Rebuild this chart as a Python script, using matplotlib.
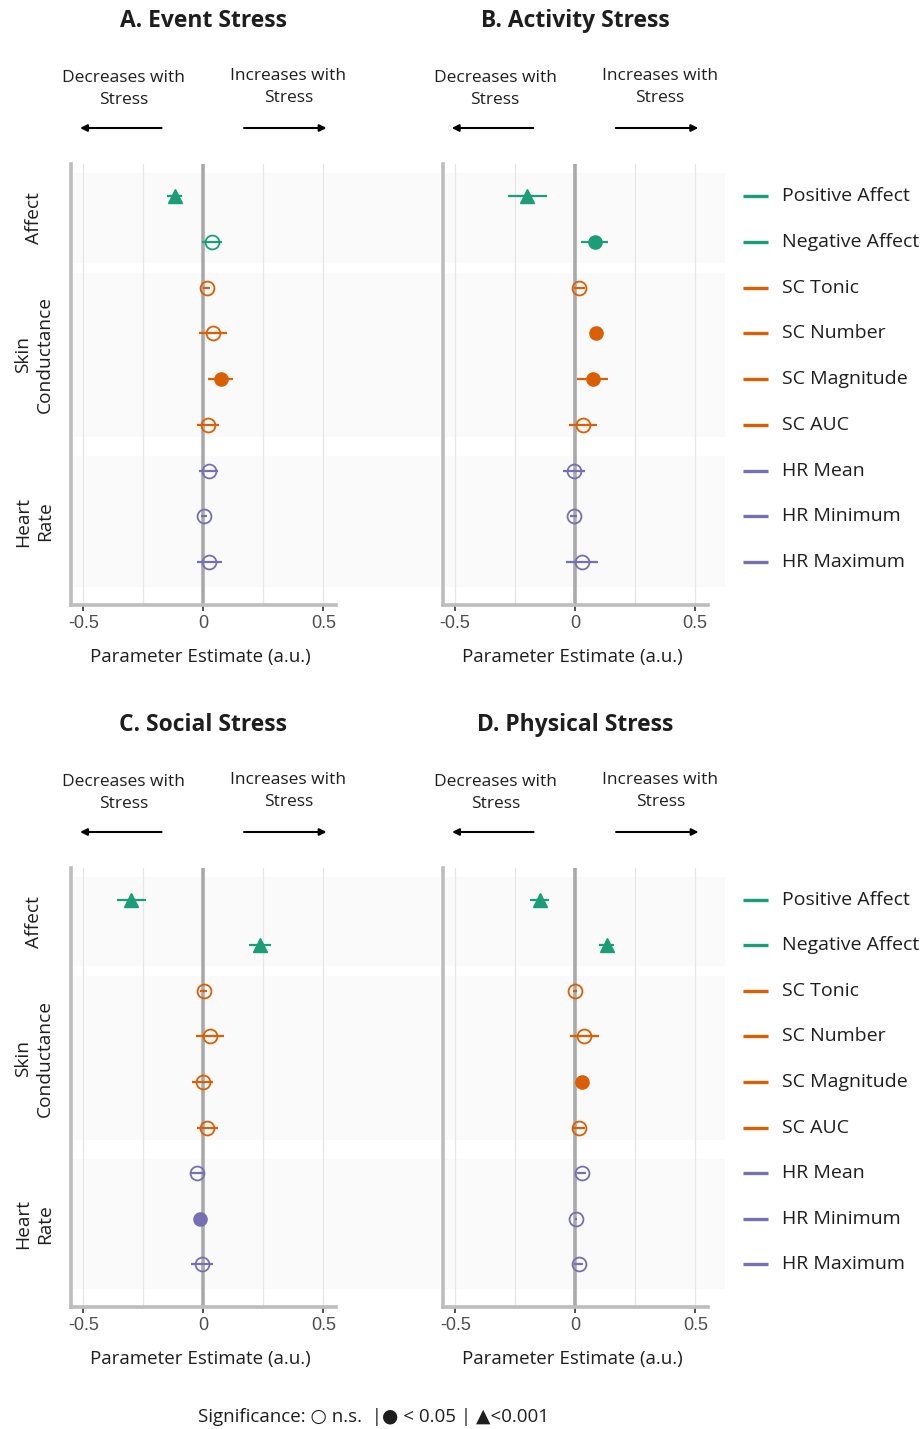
"""
Forest plots: stress type vs affect / skin conductance / heart rate estimates
"""

import numpy as np
import matplotlib
matplotlib.use("Agg")
import matplotlib.pyplot as plt
from matplotlib.transforms import blended_transform_factory

plt.rcParams["font.family"] = ["Open Sans", "DejaVu Sans"]

measures = ["Positive Affect", "Negative Affect", "SC Tonic", "SC Number", "SC Magnitude",
            "SC AUC", "HR Mean", "HR Minimum", "HR Maximum"]
measure_group = ["Affect", "Affect", "SC", "SC", "SC", "SC", "HR", "HR", "HR"]
group_labels = ["Affect", "Skin\nConductance", "Heart\nRate"]

event_est = [-0.120, 0.036, 0.014, 0.040, 0.072, 0.019, 0.022, 0.003, 0.025]
event_err = [0.033, 0.040, 0.014, 0.057, 0.052, 0.047, 0.039, 0.013, 0.051]
event_sig = ["p001", "ns", "ns", "ns", "p05", "ns", "ns", "ns", "ns"]

activity_est = [-0.198, 0.083, 0.018, 0.086, 0.074, 0.033, -0.003, -0.006, 0.029]
activity_err = [0.080, 0.056, 0.022, 0.024, 0.064, 0.060, 0.046, 0.015, 0.065]
activity_sig = ["p001", "p05", "ns", "p05", "p05", "ns", "ns", "ns", "ns"]

social_est = [-0.300, 0.236, 0.001, 0.029, -0.003, 0.017, -0.026, -0.014, -0.004]
social_err = [0.060, 0.044, 0.015, 0.059, 0.045, 0.044, 0.030, 0.010, 0.046]
social_sig = ["p001", "p001", "ns", "ns", "ns", "ns", "ns", "p05", "ns"]

physical_est = [-0.149, 0.130, 0.000, 0.038, 0.029, 0.014, 0.026, 0.003, 0.014]
physical_err = [0.038, 0.030, 0.008, 0.060, 0.015, 0.025, 0.018, 0.005, 0.020]
physical_sig = ["p001", "p001", "ns", "ns", "p05", "ns", "ns", "ns", "ns"]

group_colors = {"Affect": "#1b9e77", "SC": "#d95f02", "HR": "#7570b3"}

W, H = 924, 1429
SCALE = 240.0  # px per unit on x
BANDS = [(-0.50, 1.46), (1.68, 5.27), (5.68, 8.55)]
YLIM = (8.94, -0.70)
TXT = "#1e1e1e"


def fx(x):
    return x / W


def fy(y):
    return 1 - y / H


fig = plt.figure(figsize=(W / 100, H / 100), dpi=100)

panels = [
    dict(title="A. Event Stress", est=event_est, err=event_err, sig=event_sig,
         zero=203.3, left=71, right=440, top=164, bottom=605, strips=True, legend=False),
    dict(title="B. Activity Stress", est=activity_est, err=activity_err, sig=activity_sig,
         zero=575.0, left=443, right=725, top=164, bottom=605, strips=False, legend=True),
    dict(title="C. Social Stress", est=social_est, err=social_err, sig=social_sig,
         zero=203.3, left=71, right=440, top=868, bottom=1307, strips=True, legend=False),
    dict(title="D. Physical Stress", est=physical_est, err=physical_err, sig=physical_sig,
         zero=575.3, left=443, right=725, top=868, bottom=1307, strips=False, legend=True),
]

for p in panels:
    ax = fig.add_axes([fx(p["left"]), fy(p["bottom"]),
                       (p["right"] - p["left"]) / W, (p["bottom"] - p["top"]) / H])
    xmin = (p["left"] - p["zero"]) / SCALE
    xmax = (p["right"] - p["zero"]) / SCALE
    ax.set_xlim(xmin, xmax)
    ax.set_ylim(*YLIM)
    ax.patch.set_alpha(0)

    for y0, y1 in BANDS:
        ax.axhspan(y0, y1, color="#fafafa", lw=0, zorder=0)
    for gx in [-0.5, -0.25, 0.25, 0.5]:
        ax.axvline(gx, color="#e6e6e6", lw=0.9, zorder=1)
    ax.axvline(0, color="#a9a9a9", lw=2.6, zorder=1)

    for sp in ["top", "right"]:
        ax.spines[sp].set_visible(False)
    for sp in ["left", "bottom"]:
        ax.spines[sp].set_color("#bdbdbd")
        ax.spines[sp].set_linewidth(2.6)
    ax.spines["bottom"].set_bounds(xmin, 0.553)
    ax.set_yticks([])
    ax.set_xticks([-0.5, 0, 0.5])
    ax.set_xticklabels(["-0.5", "0", "0.5"], fontfamily="Liberation Sans", fontsize=13,
                       color="#4d4d4d")
    ax.tick_params(axis="x", length=4, width=1.2, color="#333333", pad=3)

    rows = np.arange(len(measures))
    for i in rows:
        c = group_colors[measure_group[i]]
        e, r = p["est"][i], p["err"][i]
        ax.hlines(i, e - r, e + r, color=c, lw=1.6, zorder=3)
        s = p["sig"][i]
        if s == "ns":
            ax.plot(e, i, "o", ms=10, mfc="none", mec=c, mew=1.3, zorder=4)
        elif s == "p05":
            ax.plot(e, i, "o", ms=9.5, mfc=c, mec=c, zorder=4)
        else:
            ax.plot(e, i, "^", ms=9.5, mfc=c, mec=c, zorder=4)

    z = p["zero"]
    title_y = p["top"] - 143
    fig.text(fx(z), fy(title_y), p["title"], ha="center", va="center",
             fontsize=16.5, fontweight="bold", color=TXT)
    fig.text(fx(z - 80), fy(title_y + 68), "Decreases with\nStress", ha="center",
             va="center", fontsize=12.5, linespacing=1.55, color=TXT)
    fig.text(fx(z + 85), fy(title_y + 66), "Increases with\nStress", ha="center",
             va="center", fontsize=12.5, linespacing=1.55, color=TXT)
    arr_y = fy(p["top"] - 36)
    fig.add_artist(matplotlib.patches.FancyArrowPatch(
        (fx(z - 39), arr_y), (fx(z - 126), arr_y), transform=fig.transFigure,
        arrowstyle="-|>", mutation_scale=10, lw=1.5, color="black"))
    fig.add_artist(matplotlib.patches.FancyArrowPatch(
        (fx(z + 38), arr_y), (fx(z + 126), arr_y), transform=fig.transFigure,
        arrowstyle="-|>", mutation_scale=10, lw=1.5, color="black"))

    fig.text(fx(z - 3), fy(p["bottom"] + 52), "Parameter Estimate (a.u.)", ha="center",
             va="center", fontsize=13.5, color=TXT)

    if p["strips"]:
        trans = blended_transform_factory(fig.transFigure, ax.transData)
        for (y0, y1), lab in zip(BANDS, group_labels):
            ax.text(fx(34), (y0 + y1) / 2, lab, transform=trans, rotation=90,
                    ha="center", va="center", multialignment="center",
                    fontsize=13.8, linespacing=1.3, color=TXT)

    if p["legend"]:
        trans = blended_transform_factory(fig.transFigure, ax.transData)
        for i, m in enumerate(measures):
            c = group_colors[measure_group[i]]
            ax.plot([fx(743), fx(768)], [i, i], transform=trans, color=c, lw=2.4,
                    clip_on=False, solid_capstyle="butt")
            ax.text(fx(782), i, m, transform=trans, ha="left", va="center",
                    fontsize=14, color=TXT)

fig.text(fx(373), fy(1417), "Significance: \u25cb n.s.  |\u25cf < 0.05 | \u25b2<0.001",
         ha="center", va="center", fontsize=13.5, color=TXT,
         family=["Open Sans", "DejaVu Sans"])

fig.savefig("out.png", dpi=100)
